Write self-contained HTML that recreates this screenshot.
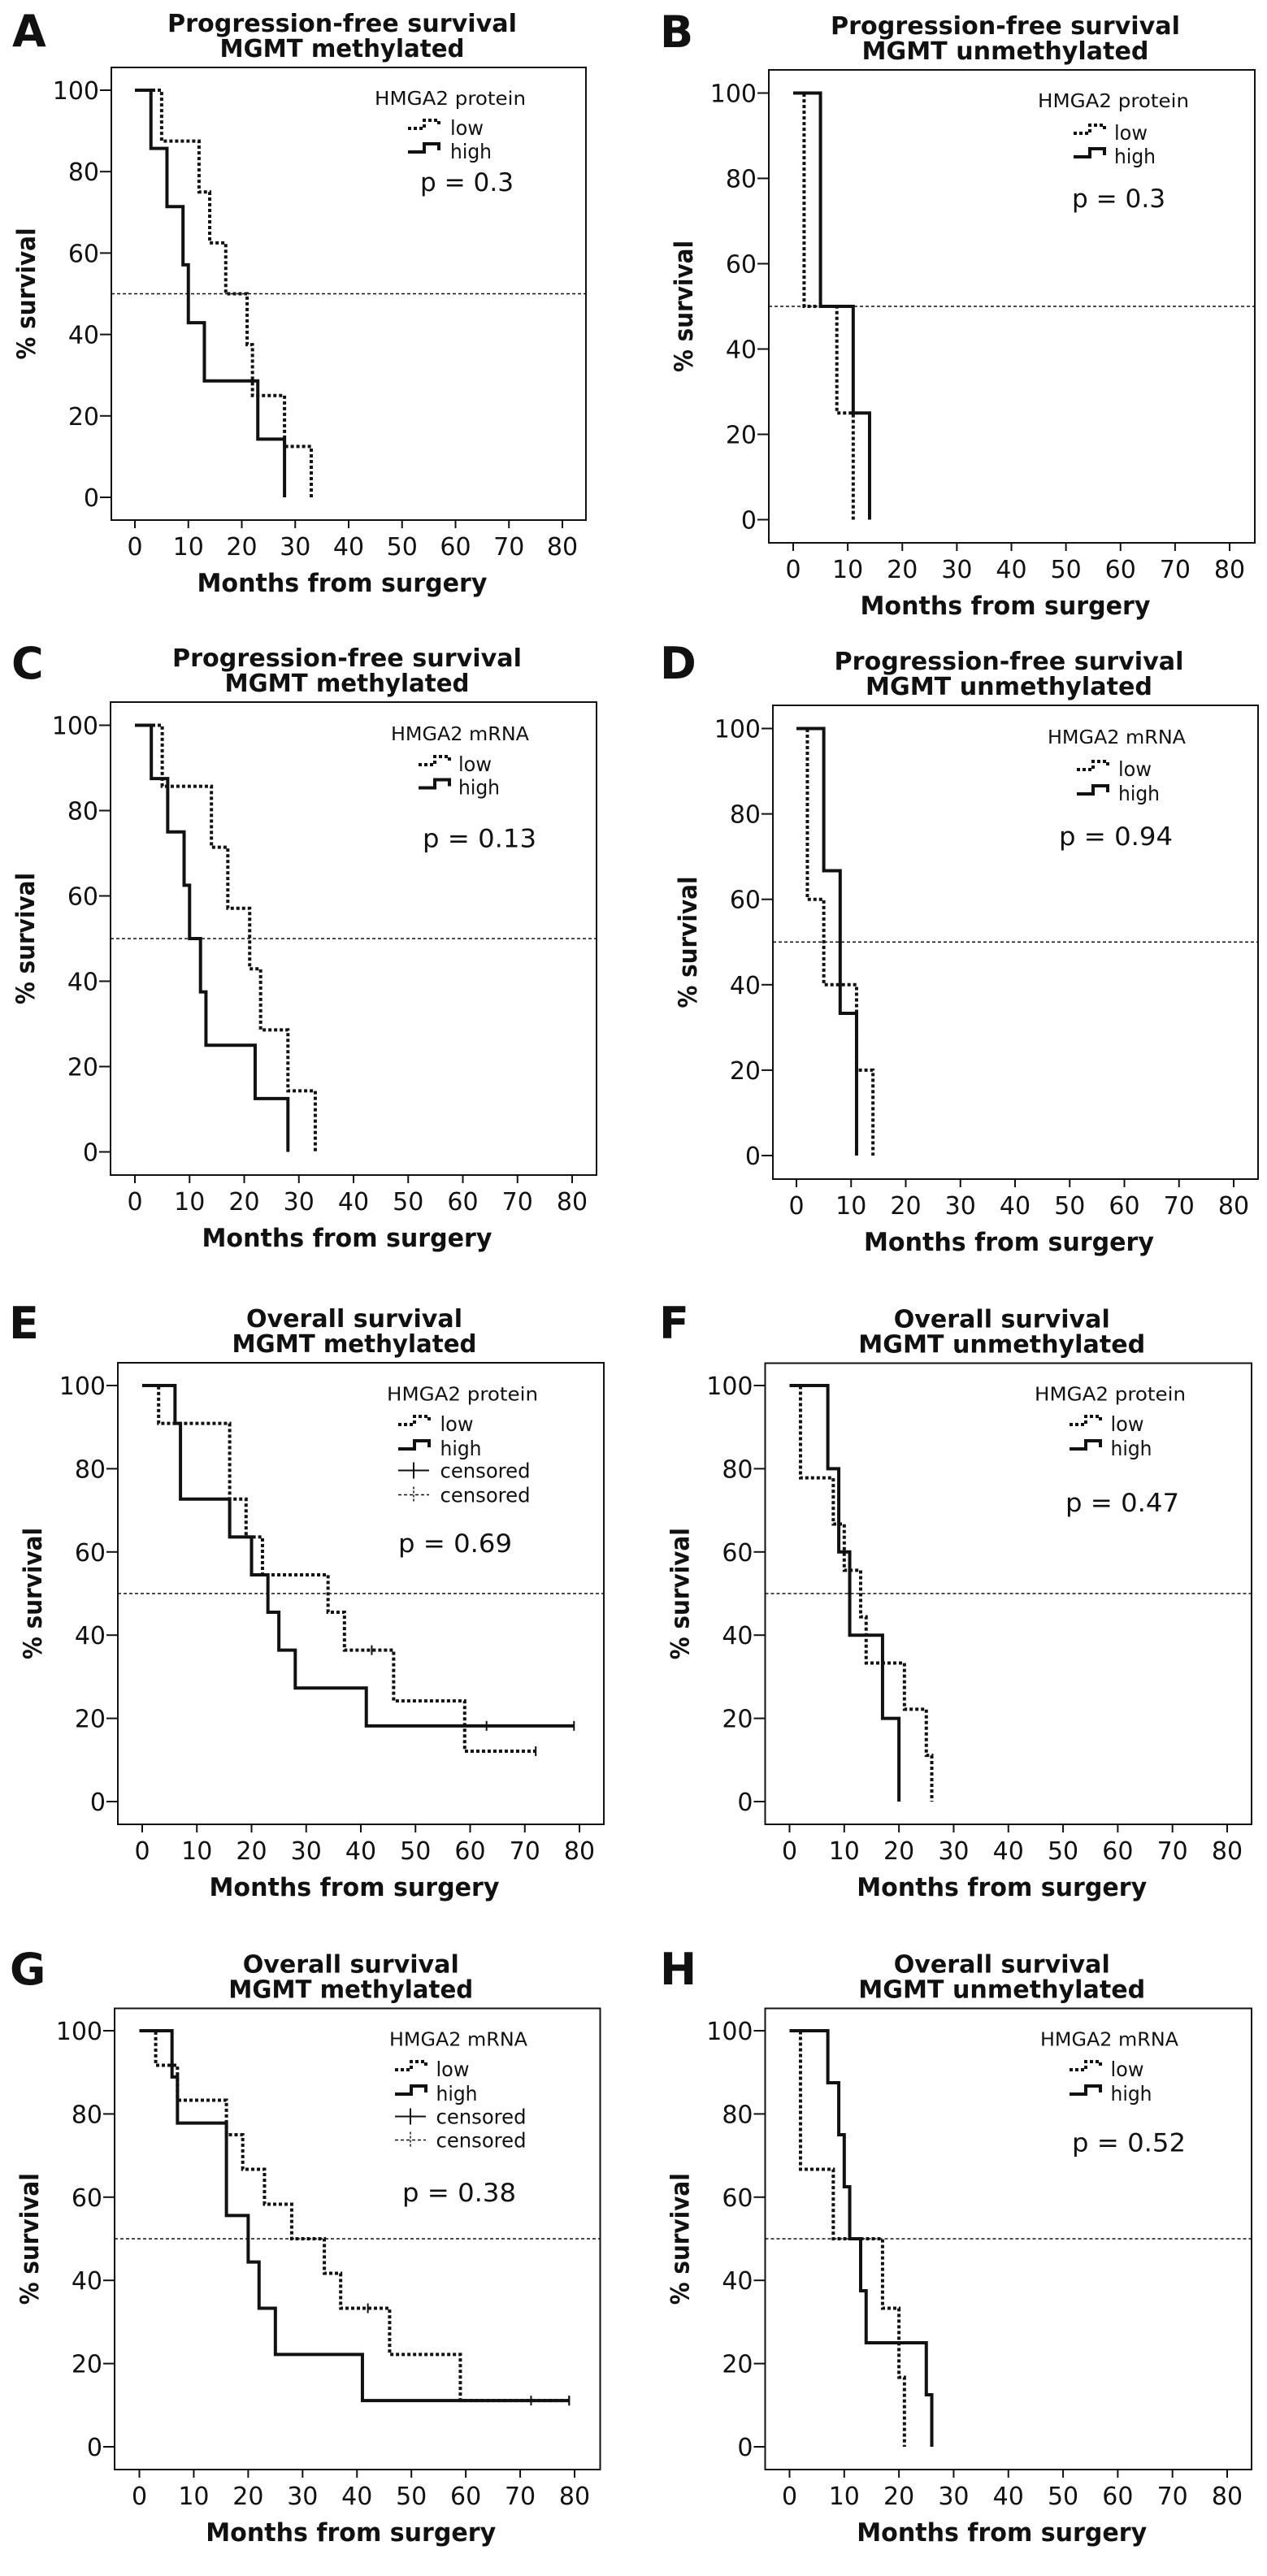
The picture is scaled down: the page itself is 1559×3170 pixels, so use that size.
<!DOCTYPE html>
<html><head><meta charset="utf-8">
<style>
html,body{margin:0;padding:0;background:#fff;}
svg{display:block;}
text{font-family:"DejaVu Sans","Liberation Sans",sans-serif;fill:#111;}
</style></head>
<body>
<svg id="fig" width="1559" height="3170" viewBox="0 0 1559 3170" xmlns="http://www.w3.org/2000/svg"></svg>
<script>
// ---- data (months, % survival) ----
const yTicks=[0,20,40,60,80,100];
const xTicks=[0,10,20,30,40,50,60,70,80];
const aHighT=[3,6,9,10,13,23,28];          const aHighS=[85.7,71.4,57.1,42.9,28.6,14.3,0];
const aLowT=[5,12,14,17,21,22,28,33];      const aLowS=[87.5,75,62.5,50,37.5,25,12.5,0];
const bHighT=[5,11,14];                    const bHighS=[50,25,0];
const bLowT=[2,8,11];                      const bLowS=[50,25,0];
const cHighT=[3,6,9,10,12,13,22,28];       const cHighS=[87.5,75,62.5,50,37.5,25,12.5,0];
const cLowT=[5,14,17,21,23,28,33];         const cLowS=[85.7,71.4,57.1,42.9,28.6,14.3,0];
const dHighT=[5,8,11];                     const dHighS=[66.7,33.3,0];
const dLowT=[2,5,11,14];                   const dLowS=[60,40,20,0];
const eHighT=[6,7,16,20,23,25,28,41];      const eHighS=[90.9,72.7,63.6,54.5,45.5,36.4,27.3,18.2];
const eHighCens=[63,79];
const eLowT=[3,16,19,22,34,37,46,59];      const eLowS=[90.9,72.7,63.6,54.5,45.5,36.4,24.2,12.1];
const eLowCens=[42,72];
const fHighT=[7,9,11,17,20];               const fHighS=[80,60,40,20,0];
const fLowT=[2,8,10,13,14,21,25,26];       const fLowS=[77.8,66.7,55.6,44.4,33.3,22.2,11.1,0];
const gHighT=[6,7,16,20,22,25,41];         const gHighS=[88.9,77.8,55.6,44.4,33.3,22.2,11.1];
const gHighCens=[72,79];
const gLowT=[3,7,16,19,23,28,34,37,46,59]; const gLowS=[91.7,83.3,75,66.7,58.3,50,41.7,33.3,22.2,11.1];
const gLowCens=[42,79];
const hHighT=[7,9,10,11,13,14,25,26];      const hHighS=[87.5,75,62.5,50,37.5,25,12.5,0];
const hLowT=[2,8,17,20,21];                const hLowS=[66.7,50,33.3,16.7,0];

const letters=["A","B","C","D","E","F","G","H"];
const titles1=["Progression-free survival","Progression-free survival","Progression-free survival","Progression-free survival","Overall survival","Overall survival","Overall survival","Overall survival"];
const titles2=["MGMT methylated","MGMT unmethylated","MGMT methylated","MGMT unmethylated","MGMT methylated","MGMT unmethylated","MGMT methylated","MGMT unmethylated"];
const legendHeads=["HMGA2 protein","HMGA2 protein","HMGA2 mRNA","HMGA2 mRNA","HMGA2 protein","HMGA2 protein","HMGA2 mRNA","HMGA2 mRNA"];
const pValues=["p = 0.3","p = 0.3","p = 0.13","p = 0.94","p = 0.69","p = 0.47","p = 0.38","p = 0.52"];

// ---- layout ----
const layout=[
 {fl:137,fr:721,ft:83,fb:640,y100:111,y0:612,x0:166,x80:692,lx:15,ly:57,hx:324,hy:46,sx:365,tx:417,lowY:83,highY:112,px:380,py:152,cens:false},
 {fl:946,fr:1544,ft:86,fb:668,y100:114.5,y0:639.5,x0:976,x80:1513,lx:812,ly:58,hx:331,hy:46,sx:375,tx:425,lowY:86,highY:115,px:373,py:169,cens:false},
 {fl:136,fr:734,ft:864,fb:1446,y100:892.5,y0:1417.5,x0:166,x80:704,lx:14,ly:835,hx:345,hy:47,sx:379,tx:428,lowY:85,highY:113.5,px:384,py:178.5,cens:false},
 {fl:951,fr:1548,ft:868,fb:1451,y100:896.5,y0:1422,x0:980,x80:1518,lx:812,ly:835,hx:338,hy:47,sx:374,tx:425,lowY:87,highY:117,px:352,py:172,cens:false},
 {fl:145,fr:743,ft:1677,fb:2245,y100:1705,y0:2217,x0:175,x80:713,lx:11,ly:1647,hx:331,hy:46.5,sx:345,tx:396.5,lowY:84,highY:114,px:345,py:233,cens:true,c1:141.5,c2:171.5},
 {fl:941.5,fr:1540,ft:1677.5,fb:2245,y100:1705,y0:2217,x0:971.5,x80:1510,lx:811,ly:1647,hx:331.5,hy:46,sx:374.5,tx:425,lowY:83.5,highY:113.5,px:369.5,py:182.5,cens:false},
 {fl:141,fr:738.5,ft:2471.5,fb:3039,y100:2499,y0:3011,x0:171.5,x80:707,lx:12,ly:2442,hx:338,hy:46,sx:345,tx:395.5,lowY:83.5,highY:113.5,px:354,py:237.5,cens:true,c1:142,c2:171},
 {fl:941.5,fr:1540,ft:2471.5,fb:3039,y100:2499,y0:3011,x0:971.5,x80:1510,lx:812,ly:2442,hx:338.5,hy:46,sx:374.5,tx:425,lowY:83.5,highY:113.5,px:377.5,py:176,cens:false}
];
const series=[
 [aHighT,aHighS,[],aLowT,aLowS,[]],
 [bHighT,bHighS,[],bLowT,bLowS,[]],
 [cHighT,cHighS,[],cLowT,cLowS,[]],
 [dHighT,dHighS,[],dLowT,dLowS,[]],
 [eHighT,eHighS,eHighCens,eLowT,eLowS,eLowCens],
 [fHighT,fHighS,[],fLowT,fLowS,[]],
 [gHighT,gHighS,gHighCens,gLowT,gLowS,gLowCens],
 [hHighT,hHighS,[],hLowT,hLowS,[]]
];

const NS="http://www.w3.org/2000/svg";
const svg=document.getElementById("fig");
function mk(tag,attrs,parent){const e=document.createElementNS(NS,tag);for(const k in attrs)e.setAttribute(k,attrs[k]);(parent||svg).appendChild(e);return e;}
function txt(s,attrs,parent){const e=mk("text",attrs,parent);e.textContent=s;return e;}
const LA="spacingAndGlyphs";

layout.forEach((L,i)=>{
  const g=mk("g",{});
  
  
  const X=v=>L.x0+(L.x80-L.x0)*v/80;
  const Y=v=>L.y0+(L.y100-L.y0)*v/100;
  const cx=(L.fl+L.fr)/2-8;

  const let_=txt(letters[i],{x:L.lx,y:L.ly,"font-size":54,"font-weight":"bold","font-family":"Liberation Sans, sans-serif"},g);
  
  
  const w1=titles1[i].startsWith("Prog")?430:266;
  const t1=txt(titles1[i],{x:cx,y:L.ft-44,"font-size":30,"font-weight":"bold","text-anchor":"middle",textLength:w1,lengthAdjust:LA},g);
  
  
  const w2=titles2[i].indexOf("unmeth")>=0?353:301;
  const t2=txt(titles2[i],{x:cx,y:L.ft-13,"font-size":30,"font-weight":"bold","text-anchor":"middle",textLength:w2,lengthAdjust:LA},g);
  
  

  const fr=mk("rect",{x:L.fl,y:L.ft,width:L.fr-L.fl,height:L.fb-L.ft,fill:"none",stroke:"#111","stroke-width":2},g);
  
  

  yTicks.forEach(v=>{
    const tk=mk("line",{x1:L.fl-14,x2:L.fl,y1:Y(v),y2:Y(v),stroke:"#111","stroke-width":2},g);
    
    
    const tl=txt(String(v),{x:L.fl-15,y:Y(v)+11,"font-size":30,"text-anchor":"end"},g);
    
    
  });
  xTicks.forEach(v=>{
    const tk=mk("line",{x1:X(v),x2:X(v),y1:L.fb,y2:L.fb+10,stroke:"#111","stroke-width":2},g);
    
    
    const tl=txt(String(v),{x:X(v),y:L.fb+43,"font-size":30,"text-anchor":"middle"},g);
    
    
  });
  const xt=txt("Months from surgery",{x:cx,y:L.fb+88,"font-size":31,"font-weight":"bold","text-anchor":"middle",textLength:357,lengthAdjust:LA},g);
  
  
  const ycy=(L.ft+L.fb)/2, ycx=L.fl-94;
  const yt=txt("% survival",{x:ycx,y:ycy,"font-size":31,"font-weight":"bold","text-anchor":"middle",transform:`rotate(-90 ${ycx} ${ycy})`,textLength:162,lengthAdjust:LA},g);
  
  

  const ref=mk("line",{x1:L.fl,x2:L.fr,y1:Y(50),y2:Y(50),stroke:"#111","stroke-width":1.5,"stroke-dasharray":"4 3"},g);
  
  

  const S=series[i];
  function curve(T,Sv,C,dotted,name){
    let d=`M${X(0)},${Y(100)}`;let prev=100;
    T.forEach((t,k)=>{d+=` L${X(t)},${Y(prev)} L${X(t)},${Y(Sv[k])}`;prev=Sv[k];});
    const lastT=T[T.length-1];
    const endT=C.length?Math.max(lastT,...C):lastT;
    if(endT>lastT)d+=` L${X(endT)},${Y(prev)}`;
    const p=mk("path",{d:d,fill:"none",stroke:"#111","stroke-width":4,"stroke-dasharray":dotted?"4 3":"none"},g);
    
    
    C.forEach(c=>{
      let s=100;T.forEach((t,k)=>{if(t<=c)s=Sv[k];});
      const m=mk("line",{x1:X(c),x2:X(c),y1:Y(s)-6,y2:Y(s)+6,stroke:"#111","stroke-width":2},g);
      
      
    });
  }
  curve(S[3],S[4],S[5],true,'low-curve');
  curve(S[0],S[1],S[2],false,'high-curve');

  // legend
  const lg=mk("g",{},g);
  
  
  const hx=L.fl+L.hx, hy=L.ft+L.hy;
  const hw=legendHeads[i].indexOf("protein")>=0?186:170;
  const lh=txt(legendHeads[i],{x:hx,y:hy,"font-size":23,textLength:hw,lengthAdjust:LA},lg);
  
  
  const sx=L.fl+L.sx, tx=L.fl+L.tx;
  function sym(y,dotted){
    const p=mk("path",{d:`M${sx},${y-8} L${sx+20},${y-8} L${sx+20},${y-18} L${sx+38},${y-18} L${sx+38},${y-10}`,fill:"none",stroke:"#111","stroke-width":4,"stroke-dasharray":dotted?"4 3":"none"},lg);
    
    
  }
  sym(L.ft+L.lowY,true);
  const lowT=txt("low",{x:tx,y:L.ft+L.lowY,"font-size":25,textLength:41,lengthAdjust:LA},lg);
  
  
  sym(L.ft+L.highY,false);
  const highT=txt("high",{x:tx,y:L.ft+L.highY,"font-size":25,textLength:51,lengthAdjust:LA},lg);
  
  
  if(L.cens){
    [[L.c1,false],[L.c2,true]].forEach(([cy,dash])=>{
      const y=L.ft+cy-9;
      const l=mk("line",{x1:sx,x2:sx+38,y1:y,y2:y,stroke:"#111","stroke-width":dash?1.5:2,"stroke-dasharray":dash?"4 3":"none"},lg);
      
      
      const v=mk("line",{x1:sx+19,x2:sx+19,y1:y-10,y2:y+10,stroke:"#111","stroke-width":dash?1.5:2,"stroke-dasharray":dash?"3 2":"none"},lg);
      
      
      const ct=txt("censored",{x:tx,y:L.ft+cy,"font-size":25,textLength:111,lengthAdjust:LA},lg);
      
      
    });
  }
  const pw=pValues[i].length>7?140:115;
  const pv=txt(pValues[i],{x:L.fl+L.px,y:L.ft+L.py,"font-size":31,textLength:pw,lengthAdjust:LA},g);
  
  
});
</script>
</body></html>
